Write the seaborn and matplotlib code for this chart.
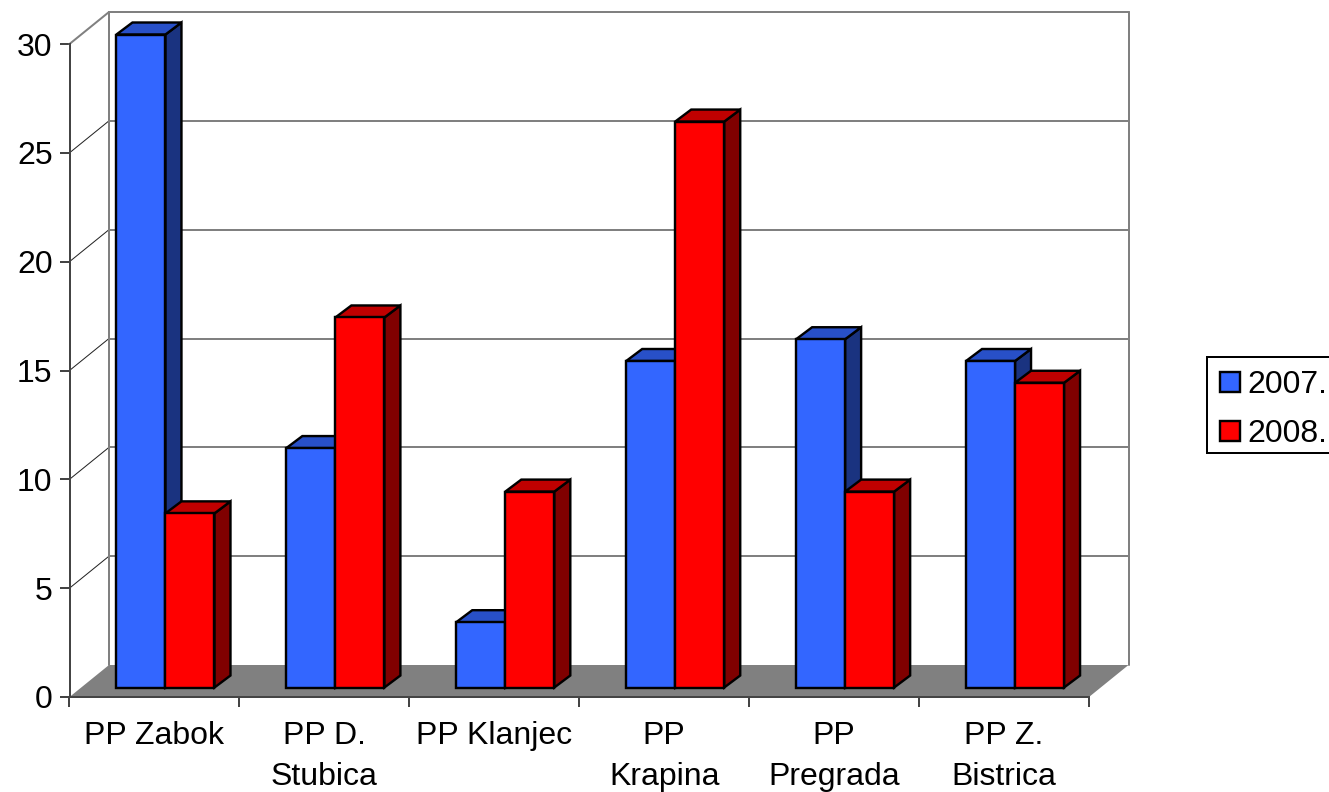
import numpy as np
import pandas as pd
import seaborn as sns
import matplotlib
matplotlib.use('Agg')
import matplotlib.pyplot as plt
from matplotlib.patches import Polygon, Rectangle
from matplotlib.transforms import Affine2D

# data
stations = ['PP Zabok', 'PP D.\nStubica', 'PP Klanjec', 'PP\nKrapina', 'PP\nPregrada', 'PP Z.\nBistrica']
values_2007 = [30, 11, 3, 15, 16, 15]
values_2008 = [8, 17, 9, 26, 9, 14]
years = ['2007.', '2008.']
y_ticks = [0, 5, 10, 15, 20, 25, 30]

front_colors = ['#3366ff', '#ff0000']
top_colors = ['#2850c8', '#c00000']
side_colors = ['#1a3380', '#800000']

df = pd.DataFrame({
    'station': stations * 2,
    'count': values_2007 + values_2008,
    'year': [years[0]] * 6 + [years[1]] * 6,
})

W, H = 1329, 792
sns.set_style('white')
plt.rcParams['font.family'] = ['Liberation Sans', 'DejaVu Sans']
plt.rcParams['text.color'] = 'black'
plt.rcParams['xtick.labelcolor'] = 'black'
plt.rcParams['ytick.labelcolor'] = 'black'
FS = 23
PX = 0.72  # one pixel in points at dpi 100

fig = plt.figure(figsize=(W / 100, H / 100), dpi=100)
left, right, bottom, top = 69.5, 1089, 697, 44
ax = fig.add_axes([left / W, (H - bottom) / H, (right - left) / W, (bottom - top) / H])
ax.patch.set_alpha(0)

sns.barplot(data=df, x='station', y='count', hue='year', hue_order=years, palette=front_colors,
            width=0.577, gap=0, edgecolor='black', linewidth=2.4 * PX, saturation=1, ax=ax)
bars = list(ax.patches)[:12]
ax.set_xlim(-0.5, 5.5)
ax.set_ylim(0, 30)
ax.set_xlabel('')
ax.set_ylabel('')

# pixel size of one data unit, used for the fake depth
px_x = (right - left) / 6
px_y = (bottom - top) / 30

# back wall and floor
wall_dx, wall_dy = 39.5, 32
wall = ax.transData + Affine2D().translate(wall_dx, wall_dy)
wx, wy = wall_dx / px_x, wall_dy / px_y
ax.add_patch(Polygon([(-0.5, 0), (5.5, 0), (5.5 + wx, wy), (-0.5 + wx, wy)], closed=True,
                     facecolor='#808080', edgecolor='none', zorder=1, clip_on=False))
for t in y_ticks[1:]:
    ax.plot([-0.5, 5.5], [t, t], color='#808080', lw=2 * PX, transform=wall, zorder=1, clip_on=False)
    ax.plot([-0.5, -0.5 + wx], [t, t + wy], color='#808080' if t == 30 else '#222222',
            lw=(2 if t == 30 else 1) * PX, zorder=1, clip_on=False)
for x in [-0.5, 5.5]:
    ax.plot([x, x], [0, 30], color='#808080', lw=2 * PX, transform=wall, zorder=1, clip_on=False)

# bars are pushed a bit off the front plane, then get a side and a top
bar_shift = ax.transData + Affine2D().translate(11, 9.5)
dx, dy = 16 / px_x, 12 / px_y
for i, bar in enumerate(bars):
    k = i // 6
    x0, w, h = bar.get_x(), bar.get_width(), bar.get_height()
    bar.set_transform(bar_shift)
    bar.set_clip_on(False)
    bar.set_zorder(5)
    side = [(x0 + w, 0), (x0 + w + dx, dy), (x0 + w + dx, h + dy), (x0 + w, h)]
    roof = [(x0, h), (x0 + dx, h + dy), (x0 + w + dx, h + dy), (x0 + w, h)]
    ax.add_patch(Polygon(side, closed=True, facecolor=side_colors[k], edgecolor='black',
                         lw=2.4 * PX, transform=bar_shift, zorder=3, clip_on=False))
    ax.add_patch(Polygon(roof, closed=True, facecolor=top_colors[k], edgecolor='black',
                         lw=2.4 * PX, transform=bar_shift, zorder=3, clip_on=False))

# axes
sns.despine(ax=ax, top=True, right=True)
for s in ['left', 'bottom']:
    ax.spines[s].set_color('#444444')
    ax.spines[s].set_linewidth(2 * PX)
    ax.spines[s].set_zorder(2)
ax.set_yticks(y_ticks)
ax.set_xticks(np.arange(-0.5, 6), minor=True)
ax.tick_params(axis='y', left=True, length=10 * PX, width=2 * PX, color='#444444', labelsize=FS, pad=5)
ax.tick_params(axis='x', which='major', bottom=False, length=0, labelsize=FS, pad=17)
ax.tick_params(axis='x', which='minor', bottom=True, length=10 * PX, width=2 * PX, color='#444444')
for lab in ax.get_xticklabels():
    lab.set_linespacing(1.5)

# legend box runs off the right edge, as in the original
fig.add_artist(Rectangle((1207 / W, (H - 453) / H), 130 / W, 96 / H, transform=fig.transFigure,
                         facecolor='white', edgecolor='black', lw=2 * PX, zorder=-1))
handles, labels = ax.get_legend_handles_labels()
leg = ax.legend(handles, labels, loc='upper left', bbox_to_anchor=(1207 / W, (H - 357) / H),
                bbox_transform=fig.transFigure, fontsize=FS, frameon=False,
                handlelength=0.6, handleheight=0.6,
                handletextpad=0.24, labelspacing=0.58, borderpad=0.42, borderaxespad=0)
leg.set_zorder(10)

fig.savefig('out.png', dpi=100)
